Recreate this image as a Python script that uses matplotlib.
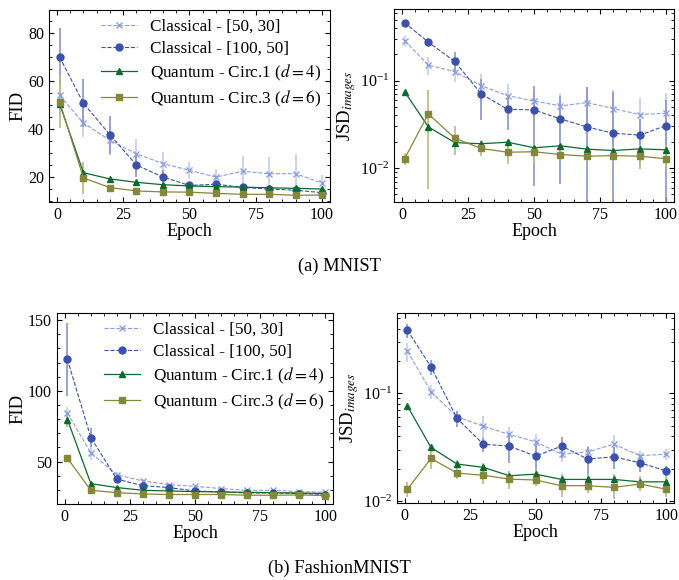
import matplotlib
matplotlib.use("Agg")
import matplotlib.pyplot as plt
import numpy as np

plt.rcParams['font.family'] = ['Liberation Serif', 'DejaVu Serif']
plt.rcParams['mathtext.fontset'] = 'stix'
plt.rcParams['font.size'] = 11

# === Data ===
epochs = [1, 10, 20, 30, 40, 50, 60, 70, 80, 90, 100]
labels = ["Classical - [50, 30]", "Classical - [100, 50]",
          "Quantum - Circ.1 ($d=4$)", "Quantum - Circ.3 ($d=6$)"]

# MNIST FID
mnist_fid_c1 = [54, 42.5, 35.3, 29.7, 25.6, 22.8, 20, 22.4, 21.4, 21.4, 17.5]
mnist_fid_c1_err = [8, 6, 6, 6, 5, 3.5, 3.5, 6.5, 7, 8, 3.5]
mnist_fid_c2 = [70, 50.7, 37.6, 25, 20, 16.5, 17, 15.7, 15, 14.5, 13.5]
mnist_fid_c2_err = [12, 10, 8, 5, 3, 1.5, 1.5, 1, 1, 1, 1]
mnist_fid_q1 = [50.5, 21.8, 19.2, 17.8, 16.8, 16.3, 16, 15.8, 15.5, 15.3, 15]
mnist_fid_q1_err = [1, 0.8, 0.5, 0.5, 0.4, 0.4, 0.4, 0.4, 0.4, 0.4, 0.4]
mnist_fid_q3 = [51.4, 19.6, 15.6, 14.2, 13.8, 13.7, 13.2, 12.8, 12.8, 12.4, 12.5]
mnist_fid_q3_err = [11, 6.5, 0.6, 0.5, 0.5, 0.5, 0.5, 0.5, 0.5, 0.5, 0.5]

# MNIST JSD
mnist_jsd_c1 = [0.286, 0.151, 0.127, 0.0877, 0.0674, 0.0586, 0.0514, 0.0561, 0.048, 0.041, 0.0424]
mnist_jsd_c1_err = [0.04, 0.035, 0.03, 0.03, 0.025, 0.02, 0.02, 0.025, 0.03, 0.022, 0.03]
mnist_jsd_c2 = [0.46, 0.276, 0.166, 0.0705, 0.0471, 0.0463, 0.0365, 0.0296, 0.0251, 0.0238, 0.0307]
mnist_jsd_c2_err = [0.04, 0.03, 0.045, 0.035, 0.02, 0.04, 0.03, 0.055, 0.05, 0.013, 0.03]
mnist_jsd_q1 = [0.075, 0.0296, 0.0196, 0.019, 0.0198, 0.0171, 0.018, 0.0165, 0.0159, 0.0166, 0.0162]
mnist_jsd_q1_err = [0.003, 0.002, 0.002, 0.002, 0.002, 0.002, 0.002, 0.002, 0.002, 0.002, 0.002]
mnist_jsd_q3 = [0.0128, 0.0417, 0.022, 0.0168, 0.0152, 0.0154, 0.0143, 0.0137, 0.0139, 0.0137, 0.0128]
mnist_jsd_q3_err = [0.002, 0.036, 0.008, 0.003, 0.004, 0.004, 0.002, 0.002, 0.002, 0.004, 0.003]

# FashionMNIST FID
fmnist_fid_c1 = [84.4, 56.1, 40.6, 36.3, 33.7, 32.5, 30.9, 29.7, 29.7, 28.8, 28.3]
fmnist_fid_c1_err = [4, 5, 2, 1.5, 1, 1, 1, 1, 1, 1, 1]
fmnist_fid_c2 = [122.2, 67, 37.5, 33, 31.6, 29.2, 28.5, 27.8, 27.8, 27.4, 26.7]
fmnist_fid_c2_err = [26, 6.5, 2, 1.5, 1, 1, 1, 1, 1, 1, 1]
fmnist_fid_q1 = [79.7, 34.4, 31.6, 29.7, 29.2, 28.8, 28.5, 28.3, 28, 27.8, 27.4]
fmnist_fid_q1_err = [5, 1.5, 1, 0.8, 0.8, 0.8, 0.8, 0.8, 0.8, 0.8, 0.8]
fmnist_fid_q3 = [52.4, 29.7, 28, 27.1, 26.7, 26.7, 26.7, 26.2, 26.2, 26.4, 26]
fmnist_fid_q3_err = [1.5, 1, 0.8, 0.8, 0.8, 0.8, 0.8, 0.8, 0.8, 0.8, 0.8]

# FashionMNIST JSD
fmnist_jsd_c1 = [0.247, 0.104, 0.0607, 0.0497, 0.0416, 0.0356, 0.0273, 0.0287, 0.0338, 0.0264, 0.0273]
fmnist_jsd_c1_err = [0.05, 0.015, 0.008, 0.012, 0.007, 0.006, 0.004, 0.004, 0.007, 0.003, 0.003]
fmnist_jsd_c2 = [0.387, 0.177, 0.0586, 0.0338, 0.0324, 0.0262, 0.0324, 0.0246, 0.0258, 0.0227, 0.0191]
fmnist_jsd_c2_err = [0.06, 0.03, 0.01, 0.005, 0.01, 0.01, 0.007, 0.007, 0.006, 0.004, 0.002]
fmnist_jsd_q1 = [0.0763, 0.0315, 0.0221, 0.0206, 0.0172, 0.0178, 0.0159, 0.0159, 0.0159, 0.0151, 0.0151]
fmnist_jsd_q1_err = [0.002, 0.002, 0.002, 0.002, 0.002, 0.002, 0.002, 0.002, 0.002, 0.002, 0.002]
fmnist_jsd_q3 = [0.0129, 0.0249, 0.0182, 0.0174, 0.016, 0.0157, 0.0139, 0.0139, 0.0134, 0.0144, 0.0129]
fmnist_jsd_q3_err = [0.002, 0.005, 0.002, 0.003, 0.003, 0.002, 0.003, 0.002, 0.003, 0.002, 0.002]

# === Styles ===
styles = [
    dict(color="#8d9ee0", marker="x", ls="--", ms=4, ecolor="#c3cbef", lw=0.8),
    dict(color="#3b51aa", marker="o", ls="--", ms=5, ecolor="#8895cf", lw=0.8),
    dict(color="#0b6a2e", marker="^", ls="-", ms=5, ecolor="#9cc3a6", lw=0.9),
    dict(color="#85873a", marker="s", ls="-", ms=5, ecolor="#b9ba83", lw=0.9),
]


def draw(ax, series, log=False, legend=False, ylabel="FID"):
    handles = []
    for (y, e), st, lab in zip(series, styles, labels):
        cont = ax.errorbar(epochs, y, yerr=e, color=st["color"], marker=st["marker"],
                           ls=st["ls"], ms=st["ms"], lw=st["lw"], ecolor=st["ecolor"],
                           elinewidth=1.2, capsize=0)
        handles.append(cont.lines[0])
    if log:
        ax.set_yscale("log")
    ax.set_xlim(-3, 103)
    ax.set_xticks([0, 25, 50, 75, 100])
    ax.minorticks_on()
    ax.tick_params(which="both", direction="in", top=True, right=True)
    ax.tick_params(which="major", length=3.5, labelsize=11.5)
    ax.tick_params(which="minor", length=2)
    ax.set_xlabel("Epoch", fontsize=13, labelpad=0)
    ax.set_ylabel(ylabel, fontsize=13.5, labelpad=1)
    if legend:
        ax.legend(handles, labels, frameon=False, loc="upper right", fontsize=12.3,
                  handlelength=2.1, handletextpad=0.8, labelspacing=0.35,
                  borderaxespad=0.1)


fig = plt.figure(figsize=(6.79, 5.80), dpi=100)
W, H = 679, 580


def add_axes(l, t, r, b):
    return fig.add_axes([l / W, 1 - b / H, (r - l) / W, (b - t) / H])


ax1 = add_axes(49, 10, 330, 202)
draw(ax1, [(mnist_fid_c1, mnist_fid_c1_err), (mnist_fid_c2, mnist_fid_c2_err),
           (mnist_fid_q1, mnist_fid_q1_err), (mnist_fid_q3, mnist_fid_q3_err)],
     legend=True)
ax1.set_ylim(9.6, 89.6)
ax1.set_yticks([20, 40, 60, 80])

ax2 = add_axes(394, 9, 674, 202)
draw(ax2, [(mnist_jsd_c1, mnist_jsd_c1_err), (mnist_jsd_c2, mnist_jsd_c2_err),
           (mnist_jsd_q1, mnist_jsd_q1_err), (mnist_jsd_q3, mnist_jsd_q3_err)],
     log=True, ylabel=r"JSD$_{images}$")
ax2.set_ylim(0.0041, 0.66)

ax3 = add_axes(57, 313, 333, 504)
draw(ax3, [(fmnist_fid_c1, fmnist_fid_c1_err), (fmnist_fid_c2, fmnist_fid_c2_err),
           (fmnist_fid_q1, fmnist_fid_q1_err), (fmnist_fid_q3, fmnist_fid_q3_err)],
     legend=True)
ax3.set_ylim(20, 155)
ax3.set_yticks([50, 100, 150])

ax4 = add_axes(397, 313, 674, 503)
draw(ax4, [(fmnist_jsd_c1, fmnist_jsd_c1_err), (fmnist_jsd_c2, fmnist_jsd_c2_err),
           (fmnist_jsd_q1, fmnist_jsd_q1_err), (fmnist_jsd_q3, fmnist_jsd_q3_err)],
     log=True, ylabel=r"JSD$_{images}$")
ax4.set_ylim(0.0096, 0.56)

fig.text(0.5, 1 - 266 / H, "(a) MNIST", ha="center", va="center", fontsize=13.3)
fig.text(0.5, 1 - 568 / H, "(b) FashionMNIST", ha="center", va="center", fontsize=13.3)

fig.savefig("out.png", dpi=100)
